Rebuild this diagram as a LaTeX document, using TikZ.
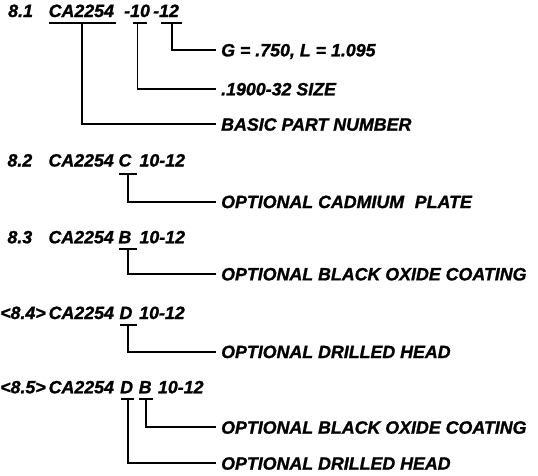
\documentclass[tikz,border=0pt]{standalone}
\usepackage{fontspec}
\setmainfont{Liberation Sans}[BoldItalicFeatures={FakeBold=1.2}]
\begin{document}
\begin{tikzpicture}[x=1pt,y=-1pt,
  txt/.style={anchor=base west, inner sep=0pt, font=\fontsize{17.8}{20}\selectfont\bfseries\itshape},
  lab/.style={anchor=west, inner sep=0pt, text height=12.7pt, text depth=0pt, font=\fontsize{17.8}{20}\selectfont\bfseries\itshape},
  uline/.style={line width=1.9pt},
  conn/.style={line width=1.9pt}]
\useasboundingbox (0,0) rectangle (538,475);

% ---- 8.1
\node[txt] (a0) at (8,17) {8.1};
\node[txt] (a1) at (48.5,17) {CA2254};
\node[txt] (a2) at (124,17) {-10};
\node[txt] (a3) at (153,17) {-12};
\node[lab] (la3) at (221,50) {G = .750, L = 1.095};
\node[lab] (la2) at (221,89) {.1900-32 SIZE};
\node[lab] (la1) at (221,124.3) {BASIC PART NUMBER};
\draw[uline] (49,22.7) -- (116,22.7);
\draw[uline] (133,22.7) -- (147.3,22.7);
\draw[uline] (161,22.7) -- (181.7,22.7);
\coordinate (ta1) at (82,22.7);
\coordinate (ta2) at (137.5,22.7);
\coordinate (ta3) at (171.7,22.7);
\draw[conn] (ta1) |- ([xshift=-5pt]la1.west);
\draw[conn] (ta2) |- ([xshift=-5pt]la2.west);
\draw[conn] (ta3) |- ([xshift=-5pt]la3.west);

% ---- 8.2
\node[txt] (b0) at (7.3,166.5) {8.2};
\node[txt] (b1) at (48.3,166.5) {CA2254};
\node[txt] (b2) at (118.3,166.5) {C};
\node[txt] (b3) at (139.3,166.5) {10-12};
\node[lab] (lb) at (221,201.7) {OPTIONAL CADMIUM\hspace{0.6em}PLATE};
\draw[uline] (119.3,174) -- (137.3,174);
\coordinate (tb) at (128.3,174);
\draw[conn] (tb) |- ([xshift=-5pt]lb.west);

% ---- 8.3
\node[txt] (c0) at (7.3,243.3) {8.3};
\node[txt] (c1) at (48.3,243.3) {CA2254};
\node[txt] (c2) at (118.3,243.3) {B};
\node[txt] (c3) at (139.3,243.3) {10-12};
\node[lab] (lc) at (221,274) {OPTIONAL BLACK OXIDE COATING};
\draw[uline] (119.3,248.6) -- (137.3,248.6);
\coordinate (tc) at (128.3,248.6);
\draw[conn] (tc) |- ([xshift=-5pt]lc.west);

% ---- 8.4
\node[txt] (d0) at (0,319) {<8.4>};
\node[txt] (d1) at (48.5,319) {CA2254};
\node[txt] (d2) at (119.3,319) {D};
\node[txt] (d3) at (139,319) {10-12};
\node[lab] (ld) at (221,351.7) {OPTIONAL DRILLED HEAD};
\draw[uline] (120,325) -- (137,325);
\coordinate (td) at (128.3,325);
\draw[conn] (td) |- ([xshift=-5pt]ld.west);

% ---- 8.5
\node[txt] (e0) at (0,393.3) {<8.5>};
\node[txt] (e1) at (48.5,393.3) {CA2254};
\node[txt] (e2) at (120,393.3) {D};
\node[txt] (e3) at (138.6,393.3) {B};
\node[txt] (e4) at (157.8,393.3) {10-12};
\node[lab] (le1) at (221,427.3) {OPTIONAL BLACK OXIDE COATING};
\node[lab] (le2) at (221,463.3) {OPTIONAL DRILLED HEAD};
\draw[uline] (120.7,399) -- (134,399);
\draw[uline] (139.3,399) -- (152.7,399);
\coordinate (te1) at (145.7,399);
\coordinate (te2) at (127.7,399);
\draw[conn] (te1) |- ([xshift=-5pt]le1.west);
\draw[conn] (te2) |- ([xshift=-5pt]le2.west);
\end{tikzpicture}
\end{document}
